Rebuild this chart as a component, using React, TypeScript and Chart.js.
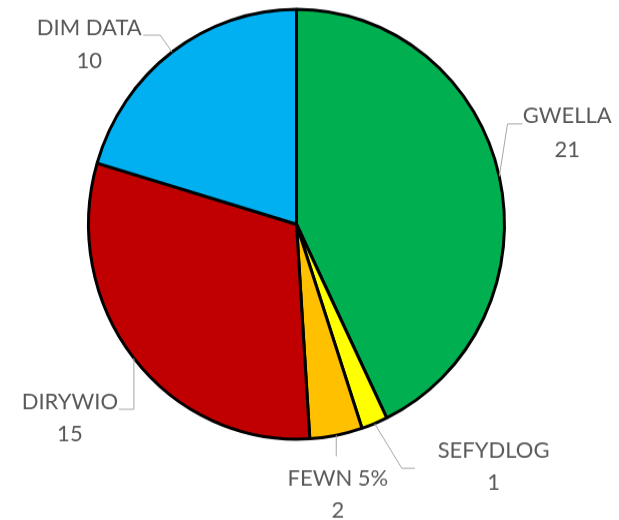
import React, { useEffect, useRef } from "react";
import { Chart, registerables } from "chart.js";

Chart.register(...registerables);

// ---- data ----
const categories = ["GWELLA", "SEFYDLOG", "FEWN 5%", "DIRYWIO", "DIM DATA"];
const values = [21, 1, 2, 15, 10];
const colors = ["#00B050", "#FFFF00", "#FFC000", "#C00000", "#00B0F0"];

// ---- label layout (screen px offsets from the slice's outer edge midpoint) ----
const labelDx = [68, 119, 1.6, -64, -82.8];
const labelDy1 = [-61.5, 25.8, 42, 43.1, -25.3];
const labelDy2 = [-27, 58.3, 74, 74.6, 8.2];
const leaderPts: number[][][] = [
  [[8.2, -52.5], [23.2, -52.5]],
  [[27.3, 44.8], [40.3, 44.8]],
  [[0, 21]],
  [[0, 51], [-15, 51]],
  [[-11.8, -16.8], [-28.8, -16.8]],
];

const SY = 1.0334; // vertical stretch of the picture
const W = 619;
const H = 503;
const FONT_SIZE = 22;

const labelPlugin = {
  id: "pieLabels",
  afterDraw(chart: any) {
    const ctx = chart.ctx;
    const meta = chart.getDatasetMeta(0);
    ctx.save();
    meta.data.forEach((arc: any, i: number) => {
      const p = arc.getProps(["x", "y", "startAngle", "endAngle", "outerRadius"], true);
      const mid = (p.startAngle + p.endAngle) / 2;
      const ax = p.x + Math.cos(mid) * p.outerRadius;
      const ay = p.y + Math.sin(mid) * p.outerRadius;
      ctx.strokeStyle = "#A6A6A6";
      ctx.lineWidth = 1;
      ctx.beginPath();
      ctx.moveTo(ax, ay);
      leaderPts[i].forEach(([dx, dy]) => ctx.lineTo(ax + dx, ay + dy / SY));
      ctx.stroke();
      ctx.fillStyle = "#595959";
      ctx.font = `${FONT_SIZE}px Lato, "Open Sans", sans-serif`;
      ctx.textAlign = "center";
      ctx.textBaseline = "alphabetic";
      const cap = FONT_SIZE * 0.7165;
      ctx.fillText(categories[i], ax + labelDx[i], ay + labelDy1[i] / SY + cap / 2);
      ctx.fillText(String(values[i]), ax + labelDx[i], ay + labelDy2[i] / SY + cap / 2);
    });
    ctx.restore();
  },
};

export default function App() {
  const ref = useRef<HTMLCanvasElement>(null);
  useEffect(() => {
    if (!ref.current) return;
    const chart = new Chart(ref.current, {
      type: "pie",
      data: {
        labels: categories,
        datasets: [
          {
            data: values,
            backgroundColor: colors,
            borderColor: "#000000",
            borderWidth: 3,
          },
        ],
      },
      options: {
        responsive: false,
        animation: false,
        radius: 208,
        layout: { padding: { left: 0, right: 26, top: 0, bottom: 69 } },
        plugins: {
          legend: { display: false },
          tooltip: { enabled: false },
        },
      },
      plugins: [labelPlugin],
    });
    return () => chart.destroy();
  }, []);
  return (
    <div style={{ position: "fixed", left: 0, top: 0, width: W, height: 520, background: "#fff" }}>
      <canvas
        ref={ref}
        width={W}
        height={H}
        style={{
          width: W,
          height: H,
          transform: `scaleY(${SY})`,
          transformOrigin: "0 0",
          display: "block",
        }}
      />
    </div>
  );
}
